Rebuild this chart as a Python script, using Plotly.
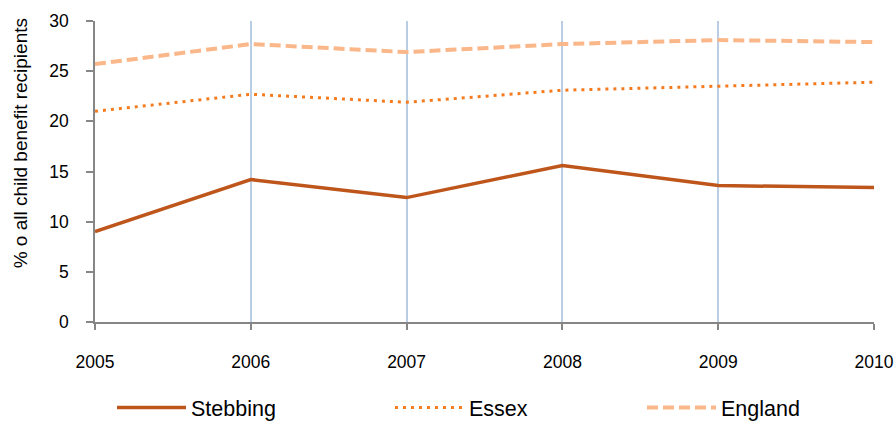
import plotly.graph_objects as go

years = [2005, 2006, 2007, 2008, 2009, 2010]
stebbing = [9.0, 14.2, 12.4, 15.6, 13.6, 13.4]
essex = [21.0, 22.7, 21.9, 23.1, 23.5, 23.9]
england = [25.7, 27.7, 26.9, 27.7, 28.1, 27.9]
y_ticks = [0, 5, 10, 15, 20, 25, 30]
y_title = "% o all child benefit recipients"

FONT = "Liberation Sans, Arial, sans-serif"
W, H = 896, 422
ML, MR, MT, MB = 95, 22, 21, 100

fig = go.Figure()
fig.add_trace(go.Scatter(x=years, y=stebbing, mode="lines", name="Stebbing",
                         line=dict(color="#BE561C", width=3.5), legend="legend"))
fig.add_trace(go.Scatter(x=years, y=essex, mode="lines", name="Essex",
                         line=dict(color="#F47C20", width=3, dash="3px,5px"), legend="legend2"))
fig.add_trace(go.Scatter(x=years, y=england, mode="lines", name="England",
                         line=dict(color="#F9B78A", width=4, dash="11px,5px"), legend="legend3"))

leg_common = dict(orientation="h", xref="container", yref="container",
                  xanchor="left", yanchor="middle", y=1 - 407.5 / H,
                  font=dict(family=FONT, size=21.5, color="#000000"),
                  itemwidth=69, bgcolor="rgba(0,0,0,0)", borderwidth=0)

fig.update_layout(
    width=W, height=H,
    margin=dict(l=ML, r=MR, t=MT, b=MB, autoexpand=False),
    paper_bgcolor="white", plot_bgcolor="white",
    font=dict(family=FONT, size=17, color="#000000"),
    showlegend=True,
    legend=dict(leg_common, x=(113 - 1) / W),
    legend2=dict(leg_common, x=(391 - 1) / W),
    legend3=dict(leg_common, x=(643 - 1) / W),
    xaxis=dict(range=[2005, 2010], tickvals=years, ticktext=[str(y) for y in years],
               showgrid=True, gridcolor="#B9CDE5", gridwidth=1.5,
               showline=True, linecolor="#868686", linewidth=1.5,
               ticks="outside", ticklen=6, tickcolor="#868686", tickwidth=1.5,
               ticklabelstandoff=17, zeroline=False,
               tickfont=dict(family=FONT, size=17.5, color="#000000")),
    yaxis=dict(range=[0, 30], tickvals=y_ticks, showgrid=False,
               showline=True, linecolor="#868686", linewidth=1.5,
               ticks="outside", ticklen=7, tickcolor="#868686", tickwidth=1.5,
               ticklabelstandoff=14, zeroline=False,
               tickfont=dict(family=FONT, size=17.5, color="#000000")),
    annotations=[dict(text=y_title, textangle=-90, showarrow=False,
                      xref="paper", yref="paper",
                      x=(20.5 - ML) / (W - ML - MR), y=(321.7 - 143.5) / (H - MT - MB),
                      xanchor="center", yanchor="middle",
                      font=dict(family=FONT, size=19, color="#000000"))],
)

fig.write_html("out.html", config={"displayModeBar": False},
               post_script="document.body.style.margin='0';document.body.style.overflow='hidden';")
